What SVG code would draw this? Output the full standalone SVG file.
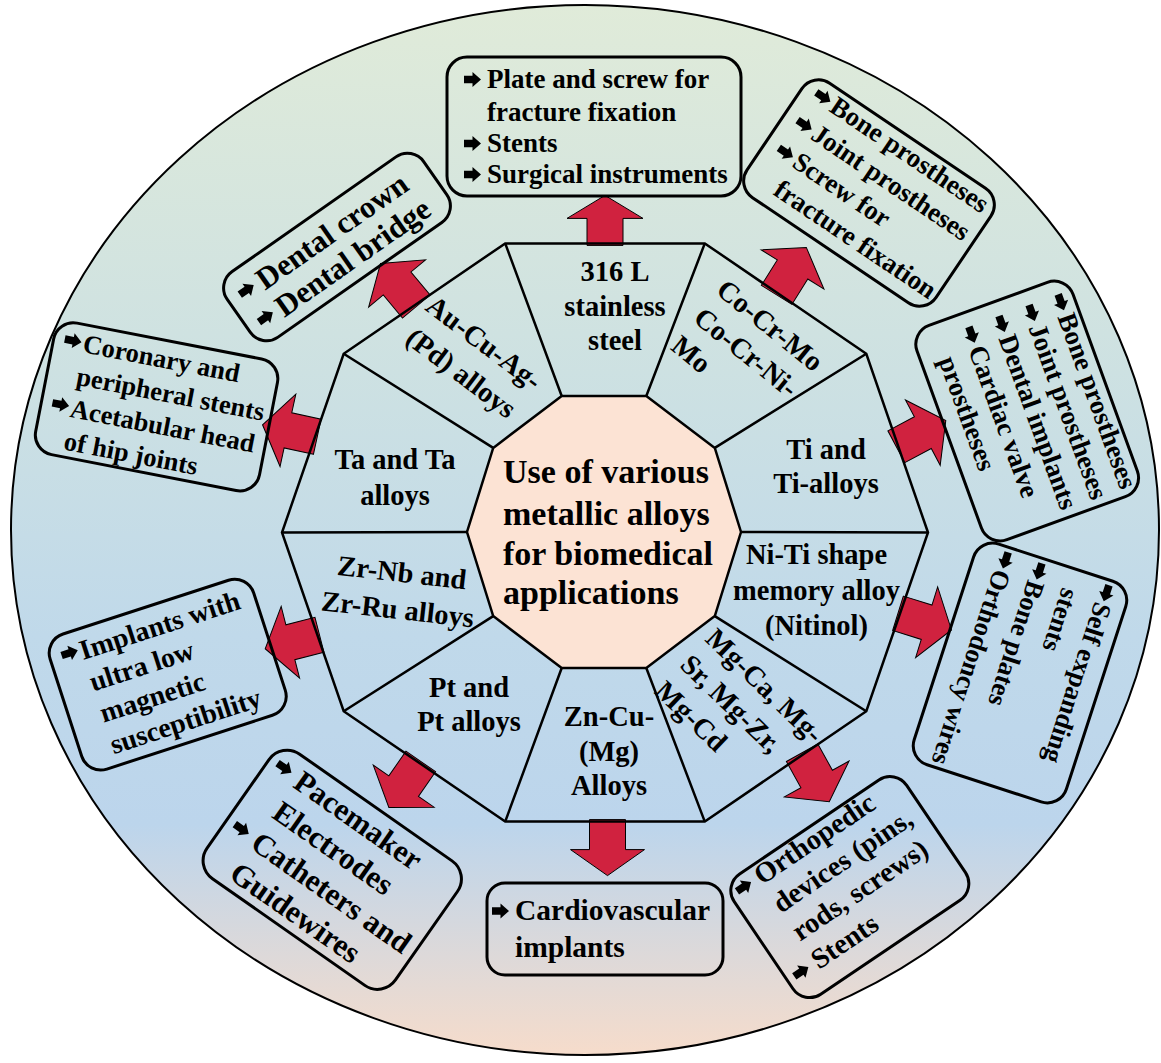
<svg xmlns="http://www.w3.org/2000/svg" xmlns:xlink="http://www.w3.org/1999/xlink" width="1161" height="1063" viewBox="0 0 1161 1063">
<defs>
<linearGradient id="bg" x1="0" y1="0" x2="0" y2="1">
<stop offset="0" stop-color="#e0ebd9"/>
<stop offset="0.35" stop-color="#cde1e2"/>
<stop offset="0.6" stop-color="#c0d9ea"/>
<stop offset="0.78" stop-color="#bcd5ec"/>
<stop offset="1" stop-color="#f6dccb"/>
</linearGradient>
<path id="bul" d="M0,-3.8 H8.5 V-7.5 L17,0 L8.5,7.5 V3.8 H0 Z"/>
<path id="arr" d="M-18,2 V-28 H-37 L0,-54 L37,-28 H18 V2 Z"/>
<path id="arrT" d="M-18,2 V-25 H-38 L0,-48 L38,-25 H18 V2 Z"/>
</defs>
<style>
.t{font-family:"Liberation Serif","Times New Roman",serif;font-weight:bold;fill:#000}
.s{font-size:28.5px}
.c{text-anchor:middle}
.box{fill:none;stroke:#000;stroke-width:3}
.ar{fill:#d0223f;stroke:#000;stroke-width:1}
.seg{fill:none;stroke:#000;stroke-width:2.5;stroke-linejoin:miter}
</style>
<rect width="1161" height="1063" fill="#fff"/>
<ellipse cx="585" cy="530" rx="574" ry="525" fill="url(#bg)" stroke="#000" stroke-width="2"/>

<g id="connectors">
<use href="#arrT" class="ar" transform="translate(605,243.4)"/>
<use href="#arr" class="ar" transform="translate(777.7,293.2) rotate(32)"/>
<use href="#arr" class="ar" transform="translate(898.1,445.8) rotate(62)"/>
<use href="#arr" class="ar" transform="translate(899.9,613.9) rotate(107.3)"/>
<use href="#arr" class="ar" transform="translate(803.1,754.5) rotate(151)"/>
<use href="#arr" class="ar" transform="translate(607.5,821.6) rotate(180)"/>
<use href="#arr" class="ar" transform="translate(419.6,763.1) rotate(-145.3)"/>
<use href="#arr" class="ar" transform="translate(317.5,635.3) rotate(-104.4)"/>
<use href="#arr" class="ar" transform="translate(315.3,436.3) rotate(-77.7)"/>
<use href="#arr" class="ar" transform="translate(415,305) rotate(-39.7)"/>
</g>

<g id="wheel">
<polygon class="seg" points="928,532.5 866.3,353.8 704.8,243.4 505.2,243.4 343.7,353.8 282,532.5 343.7,711.2 505.2,821.6 704.8,821.6 866.3,711.2"/>
<path class="seg" d="M741,532 L928,532.5 M714.8,447.9 L866.3,353.8 M646.3,396 L704.8,243.4 M561.7,396 L505.2,243.4 M493.2,447.9 L343.7,353.8 M467,532 L282,532.5 M493.2,616.1 L343.7,711.2 M561.7,668 L505.2,821.6 M646.3,668 L704.8,821.6 M714.8,616.1 L866.3,711.2"/>
</g>

<g id="center">
<polygon points="741,532 714.8,447.9 646.3,396 561.7,396 493.2,447.9 467,532 493.2,616.1 561.7,668 646.3,668 714.8,616.1" fill="#fce3d4" stroke="#000" stroke-width="2.5"/>
<text class="t" font-size="34" x="503"><tspan x="503" y="483">Use of various</tspan><tspan x="503" y="524.5">metallic alloys</tspan><tspan x="503" y="565">for biomedical</tspan><tspan x="503" y="604">applications</tspan></text>
</g>

<g id="seg-316l"><text class="t s c"><tspan x="615" y="281">316 L</tspan><tspan x="615" y="315.5">stainless</tspan><tspan x="615" y="350">steel</tspan></text></g>
<g id="seg-cocr"><text class="t s" transform="translate(721,285) rotate(39)"><tspan x="0" y="10">Co-Cr-Mo</tspan><tspan x="0" y="46">Co-Cr-Ni-</tspan><tspan x="0" y="82">Mo</tspan></text></g>
<g id="seg-ti"><text class="t s c"><tspan x="826" y="459">Ti and</tspan><tspan x="826" y="493">Ti-alloys</tspan></text></g>
<g id="seg-niti"><text class="t s c"><tspan x="816.5" y="564">Ni-Ti shape</tspan><tspan x="816.5" y="600">memory alloy</tspan><tspan x="816.5" y="635">(Nitinol)</tspan></text></g>
<g id="seg-mg"><text class="t s" transform="translate(711,633) rotate(44)"><tspan x="0" y="10">Mg-Ca, Mg-</tspan><tspan x="0" y="46.5">Sr, Mg-Zr,</tspan><tspan x="0" y="83">Mg-Cd</tspan></text></g>
<g id="seg-zn"><text class="t s c"><tspan x="609" y="726">Zn-Cu-</tspan><tspan x="609" y="761">(Mg)</tspan><tspan x="609" y="795">Alloys</tspan></text></g>
<g id="seg-pt"><text class="t s c"><tspan x="469" y="697">Pt and</tspan><tspan x="469" y="731">Pt alloys</tspan></text></g>
<g id="seg-zr"><text class="t s c" transform="translate(400,590) rotate(6.5)"><tspan x="0" y="-8">Zr-Nb and</tspan><tspan x="0" y="29">Zr-Ru alloys</tspan></text></g>
<g id="seg-ta"><text class="t s c"><tspan x="395" y="469">Ta and Ta</tspan><tspan x="395" y="505">alloys</tspan></text></g>
<g id="seg-au"><text class="t s c" transform="translate(473,357.5) rotate(37)"><tspan x="0" y="-9">Au-Cu-Ag-</tspan><tspan x="0" y="29">(Pd) alloys</tspan></text></g>

<g id="box-316l">
<rect class="box" x="447" y="57" width="294" height="139" rx="20"/>
<use href="#bul" x="464" y="79.5"/><use href="#bul" x="464" y="143.5"/><use href="#bul" x="464" y="174.5"/>
<text class="t" font-size="27"><tspan x="487" y="88">Plate and screw for</tspan><tspan x="487" y="120.5">fracture fixation</tspan><tspan x="487" y="152">Stents</tspan><tspan x="487" y="183">Surgical instruments</tspan></text>
</g>

<g id="box-cocr" transform="translate(869,193) rotate(34)">
<rect class="box" x="-114" y="-69" width="228" height="138" rx="20"/>
<use href="#bul" x="-100" y="-54"/><use href="#bul" x="-100" y="-20.5"/><use href="#bul" x="-100" y="13"/>
<text class="t" font-size="27"><tspan x="-80" y="-45.5">Bone prostheses</tspan><tspan x="-80" y="-12">Joint prostheses</tspan><tspan x="-80" y="21.5">Screw for</tspan><tspan x="-80" y="55">fracture fixation</tspan></text>
</g>

<g id="box-ti" transform="translate(1030,410) rotate(70)">
<rect class="box" x="-114" y="-80" width="228" height="166" rx="20"/>
<use href="#bul" x="-99" y="-66"/><use href="#bul" x="-99" y="-35"/><use href="#bul" x="-99" y="-3"/><use href="#bul" x="-99" y="29"/>
<text class="t" font-size="27"><tspan x="-78" y="-57.5">Bone prostheses</tspan><tspan x="-78" y="-26.5">Joint prostheses</tspan><tspan x="-78" y="5.5">Dental implants</tspan><tspan x="-78" y="37.5">Cardiac valve</tspan><tspan x="-78" y="69">prostheses</tspan></text>
</g>

<g id="box-niti" transform="translate(1020,673) rotate(108)">
<rect class="box" x="-116" y="-80" width="232" height="160" rx="20"/>
<use href="#bul" x="-111" y="-57.5"/><use href="#bul" x="-111" y="13"/><use href="#bul" x="-111" y="48.5"/>
<text class="t" font-size="26.5"><tspan x="-92" y="-49">Self expanding</tspan><tspan x="-95" y="-13.5">stents</tspan><tspan x="-92" y="21.5">Bone plates</tspan><tspan x="-92" y="57">Orthodoncy wires</tspan></text>
</g>

<g id="box-mg" transform="translate(864.5,883.8) rotate(-34)">
<rect class="box" x="-118" y="-78" width="208" height="145" rx="20"/>
<use href="#bul" x="-110" y="-65"/><use href="#bul" x="-110" y="37.5"/>
<text class="t" font-size="28.5"><tspan x="-86" y="-56">Orthopedic</tspan><tspan x="-86" y="-22">devices (pins,</tspan><tspan x="-86" y="12">rods, screws)</tspan><tspan x="-86" y="46">Stents</tspan></text>
</g>

<g id="box-zn">
<rect class="box" x="487" y="883" width="236" height="92" rx="18"/>
<use href="#bul" x="492" y="911"/>
<text class="t" font-size="29.5"><tspan x="515" y="920">Cardiovascular</tspan><tspan x="515" y="956.5">implants</tspan></text>
</g>

<g id="box-pt" transform="translate(331.6,862) rotate(35)">
<rect class="box" x="-110" y="-70" width="230" height="152" rx="22"/>
<use href="#bul" x="-101" y="-50"/><use href="#bul" x="-101" y="24.5"/>
<text class="t" font-size="31"><tspan x="-76" y="-39">Pacemaker</tspan><tspan x="-76" y="-2">Electrodes</tspan><tspan x="-76" y="35.5">Catheters and</tspan><tspan x="-76" y="72.5">Guidewires</tspan></text>
</g>

<g id="box-zr" transform="translate(167.4,673.7) rotate(-18)">
<rect class="box" x="-107" y="-70" width="214" height="142" rx="20"/>
<use href="#bul" x="-95" y="-50"/>
<text class="t" font-size="28"><tspan x="-76" y="-39">Implants with</tspan><tspan x="-76" y="-6">ultra low</tspan><tspan x="-76" y="27">magnetic</tspan><tspan x="-76" y="60">susceptibility</tspan></text>
</g>

<g id="box-ta" transform="translate(160.7,406.6) rotate(11)">
<rect class="box" x="-118" y="-66" width="228" height="134" rx="20"/>
<use href="#bul" x="-107" y="-48"/><use href="#bul" x="-107" y="17"/>
<text class="t" font-size="26.5"><tspan x="-88" y="-38.5">Coronary and</tspan><tspan x="-88" y="-5.5">peripheral stents</tspan><tspan x="-88" y="27.5">Acetabular head</tspan><tspan x="-88" y="60.5">of hip joints</tspan></text>
</g>

<g id="box-au" transform="translate(337,247) rotate(-35)">
<rect class="box" x="-120" y="-40" width="240" height="80" rx="20"/>
<use href="#bul" x="-107" y="-16.7"/><use href="#bul" x="-107" y="16.7"/>
<text class="t" font-size="31"><tspan x="-84" y="-5.5">Dental crown</tspan><tspan x="-84" y="27.8">Dental bridge</tspan></text>
</g>
</svg>
